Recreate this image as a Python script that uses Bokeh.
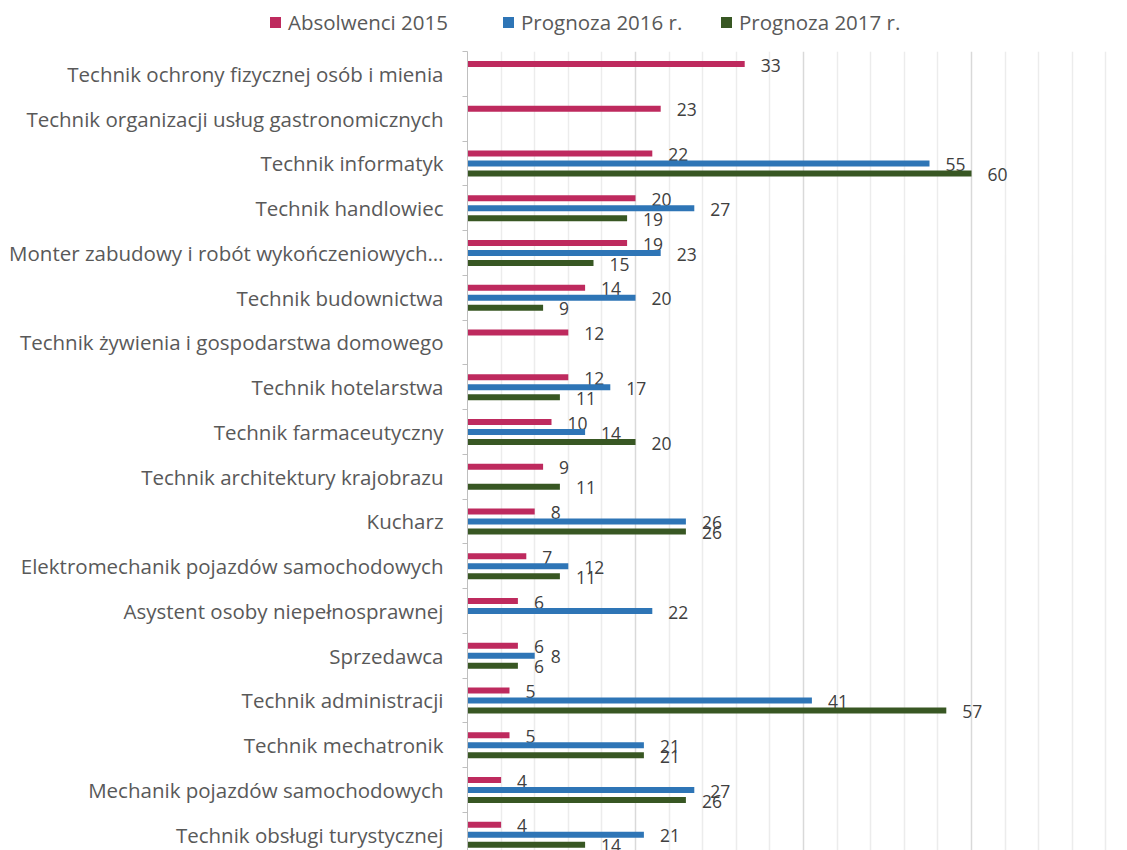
from bokeh.plotting import figure
from bokeh.layouts import column
from bokeh.models import Range1d, FixedTicker, ColumnDataSource, Div
from bokeh.core.properties import value
from bokeh.embed import file_html
from bokeh.resources import INLINE

categories = [
    "Technik ochrony fizycznej osób i mienia",
    "Technik organizacji usług gastronomicznych",
    "Technik informatyk",
    "Technik handlowiec",
    "Monter zabudowy i robót wykończeniowych…",
    "Technik budownictwa",
    "Technik żywienia i gospodarstwa domowego",
    "Technik hotelarstwa",
    "Technik farmaceutyczny",
    "Technik architektury krajobrazu",
    "Kucharz",
    "Elektromechanik pojazdów samochodowych",
    "Asystent osoby niepełnosprawnej",
    "Sprzedawca",
    "Technik administracji",
    "Technik mechatronik",
    "Mechanik pojazdów samochodowych",
    "Technik obsługi turystycznej",
]
absolwenci_2015 = [33, 23, 22, 20, 19, 14, 12, 12, 10, 9, 8, 7, 6, 6, 5, 5, 4, 4]
prognoza_2016 = [None, None, 55, 27, 23, 20, None, 17, 14, None, 26, 12, 22, 8, 41, 21, 27, 21]
prognoza_2017 = [None, None, 60, 19, 15, 9, None, 11, 20, 11, 26, 11, None, 6, 57, 21, 26, 14]
series_names = ["Absolwenci 2015", "Prognoza 2016 r.", "Prognoza 2017 r."]
x_major_ticks = [0, 20, 40, 60, 80]
x_minor_ticks = [4, 8, 12, 16, 24, 28, 32, 36, 44, 48, 52, 56, 64, 68, 72, 76]

colors = ["#BE2A5E", "#2E75B6", "#385723"]
FONT = "Open Sans"
TEXT = "#595959"

W = 1127
LEG_H = 51
H = 850 - LEG_H
LEFT = 467
PX_PER_UNIT = 8.4
PITCH = 44.75
frame_w = W - LEFT
frame_h = H

# ---- legend strip on top ----
legend_left = [270, 503, 721]
items = []
for name, col, lx in zip(series_names, colors, legend_left):
    items.append(
        f'<div style="position:absolute;left:{lx}px;top:0;height:44px;display:flex;align-items:center;'
        f'white-space:nowrap;">'
        f'<span style="display:inline-block;width:11px;height:11px;background:{col};margin-right:7px;"></span>'
        f'<span>{name}</span></div>'
    )
legend_html = (
    f'<div style="position:relative;width:{W}px;height:{LEG_H}px;font-family:\'{FONT}\';'
    f'font-size:20.5px;color:{TEXT};line-height:1;">' + "".join(items) + "</div>"
)
lg = Div(text=legend_html, width=W, height=LEG_H, margin=0)

# ---- main chart ----
p = figure(width=W, height=H, output_backend="svg", toolbar_location=None,
           x_range=Range1d(0, frame_w / PX_PER_UNIT),
           y_range=Range1d(0.5 + frame_h / PITCH, 0.5),
           min_border_left=LEFT, min_border_right=0, min_border_top=0, min_border_bottom=0)
p.outline_line_color = None
p.background_fill_color = "white"
p.border_fill_color = "white"

offset = 10 / PITCH
bar_h = 6 / PITCH
for k, (vals, col) in enumerate(zip([absolwenci_2015, prognoza_2016, prognoza_2017], colors)):
    ys, xs, ts = [], [], []
    for i, v in enumerate(vals):
        if v is None:
            continue
        ys.append(i + 1 + (k - 1) * offset)
        xs.append(v)
        ts.append(str(v))
    src = ColumnDataSource(dict(y=ys, x=xs, t=ts, ly=[y + 0.03 for y in ys]))
    p.hbar(y="y", right="x", left=0, height=bar_h, source=src, fill_color=col, line_color=None)
    p.text(x="x", y="ly", text="t", source=src, x_offset=16, text_baseline="middle",
           text_font=value(FONT), text_font_size="17.5px", text_color="#404040")

p.ygrid.visible = False
p.xgrid.ticker = FixedTicker(ticks=x_major_ticks, minor_ticks=x_minor_ticks)
p.xgrid.grid_line_color = "#d9d9d9"
p.xgrid.grid_line_width = 1.5
p.xgrid.minor_grid_line_color = "#ececec"
p.xgrid.minor_grid_line_width = 1.5
p.xaxis.visible = False

ax = p.yaxis[0]
ax.ticker = FixedTicker(ticks=[i + 1 for i in range(len(categories))],
                        minor_ticks=[i + 0.5 for i in range(len(categories) + 1)])
ax.major_label_overrides = {i + 1: c for i, c in enumerate(categories)}
ax.major_tick_out = 0
ax.major_tick_in = 0
ax.minor_tick_out = 5
ax.minor_tick_in = 0
ax.minor_tick_line_color = "#bfbfbf"
ax.axis_line_color = "#bfbfbf"
ax.major_label_standoff = 19
ax.major_label_text_font = FONT
ax.major_label_text_font_size = "20.5px"
ax.major_label_text_color = TEXT

layout = column(lg, p, spacing=0)
open("out.html", "w").write(file_html(layout, INLINE))
